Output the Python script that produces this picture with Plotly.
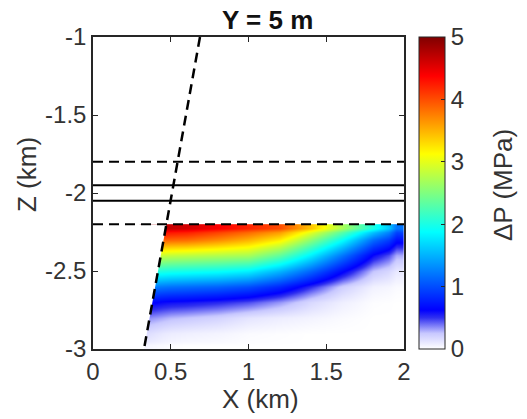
import plotly.graph_objects as go

# ---- data ----
x_edges = [0.3, 0.4, 0.5, 0.7, 0.9, 1.1, 1.3, 1.5, 1.7, 1.9, 2.0]
z_edges = [-2.2, -2.25, -2.35, -2.45, -2.55, -2.65, -2.75, -2.85, -2.95, -3.0]
# rows: z cells from top (-2.225) to bottom (-2.975); columns: x cells 0.35 .. 1.95
dP = [
    [4.8, 4.7, 4.6, 4.4, 4.2, 4.0, 3.4, 2.7, 2.0, 1.2],
    [3.95, 3.9, 3.85, 3.7, 3.5, 3.2, 2.55, 1.9, 1.15, 0.7],
    [2.9, 2.85, 2.8, 2.75, 2.7, 2.35, 1.8, 1.2, 0.6, 0.3],
    [2.05, 2.0, 1.95, 1.9, 1.8, 1.5, 1.1, 0.65, 0.25, 0.1],
    [1.25, 1.2, 1.15, 1.1, 1.0, 0.8, 0.5, 0.22, 0.06, 0.02],
    [0.65, 0.6, 0.57, 0.52, 0.45, 0.33, 0.17, 0.07, 0.01, 0.0],
    [0.35, 0.3, 0.25, 0.2, 0.12, 0.08, 0.05, 0.02, 0.0, 0.0],
    [0.15, 0.1, 0.07, 0.05, 0.02, 0.01, 0.0, 0.0, 0.0, 0.0],
    [0.04, 0.02, 0.0, 0.0, 0.0, 0.0, 0.0, 0.0, 0.0, 0.0],
]
fault_x = [0.688, 0.328]
fault_z = [-1.0, -3.0]
dashed_z = [-1.8, -2.2]
solid_z = [-1.95, -2.05]
x_ticks = [0, 0.5, 1, 1.5, 2]
z_ticks = [-3, -2.5, -2, -1.5, -1]
cb_ticks = [0, 1, 2, 3, 4, 5]

FONT = "Liberation Sans, Arial, Helvetica, sans-serif"
TXT = "#333333"
AX = "#262626"
TICK_SIZE = 24
TITLE_SIZE = 26

colorscale = [
    [0.0, "#ffffff"], [0.05, "#c8c8ff"], [0.10, "#3030f0"], [0.125, "#0000ff"],
    [0.375, "#00ffff"], [0.625, "#ffff00"], [0.875, "#ff0000"], [1.0, "#800000"],
]

fig = go.Figure()
fig.add_trace(go.Heatmap(
    x=x_edges, y=z_edges, z=dP, zmin=0, zmax=5, zsmooth="best",
    colorscale=colorscale,
    colorbar=dict(x=(419 - 93) / 311, xanchor="left", xpad=0, y=0.5, yanchor="middle",
                  ypad=0, len=1, lenmode="fraction", thickness=26,
                  outlinewidth=1, outlinecolor=AX, tickvals=cb_ticks,
                  ticks="inside", ticklen=4, tickcolor=AX,
                  tickfont=dict(family=FONT, size=TICK_SIZE, color=TXT)),
    hoverinfo="skip",
))

# mask left of fault (white)
def fx(z):
    return fault_x[0] + (z - fault_z[0]) * (fault_x[1] - fault_x[0]) / (fault_z[1] - fault_z[0])

zt, zb = z_edges[0], z_edges[-1]
fig.add_trace(go.Scatter(
    x=[0, fx(zt), fx(zb), 0, 0], y=[zt, zt, zb, zb, zt], mode="lines",
    fill="toself", fillcolor="white", line=dict(width=0), hoverinfo="skip",
    showlegend=False))

for zz in dashed_z:
    fig.add_trace(go.Scatter(x=[0, 2], y=[zz, zz], mode="lines",
                             line=dict(color="black", width=2, dash="10px,6px"),
                             showlegend=False, hoverinfo="skip"))
for zz in solid_z:
    fig.add_trace(go.Scatter(x=[0, 2], y=[zz, zz], mode="lines",
                             line=dict(color="black", width=2),
                             showlegend=False, hoverinfo="skip"))
fig.add_trace(go.Scatter(x=fault_x, y=fault_z, mode="lines",
                         line=dict(color="black", width=2.5, dash="10px,6px"),
                         showlegend=False, hoverinfo="skip"))

axis_common = dict(showline=True, linecolor=AX, linewidth=1.5, mirror="ticks",
                   ticks="inside", ticklen=5, tickcolor=AX, tickwidth=1.2,
                   showgrid=False, zeroline=False, automargin=False,
                   tickfont=dict(family=FONT, size=TICK_SIZE, color=TXT))
fig.update_xaxes(range=[0, 2], tickvals=x_ticks, ticktext=["0", "0.5", "1", "1.5", "2"],
                 **axis_common)
fig.update_yaxes(range=[-3, -1], tickvals=z_ticks, ticktext=["-3", "-2.5", "-2", "-1.5", "-1"],
                 **axis_common)

def px(xp):
    return (xp - 93) / 311

def py(yp):
    return (349 - yp) / 312

ann = dict(xref="paper", yref="paper", showarrow=False, xanchor="center", yanchor="middle")
fig.update_layout(
    width=527, height=419, margin=dict(l=93, r=123, t=37, b=70),
    paper_bgcolor="white", plot_bgcolor="white", showlegend=False,
    annotations=[
        dict(text="<b>Y = 5 m</b>", x=px(267), y=py(20),
             font=dict(family=FONT, size=TITLE_SIZE, color="#111111"), **ann),
        dict(text="X (km)", x=px(260), y=py(399),
             font=dict(family=FONT, size=TITLE_SIZE, color=TXT), **ann),
        dict(text="Z (km)", x=px(27), y=py(175), textangle=-90,
             font=dict(family=FONT, size=TITLE_SIZE, color=TXT), **ann),
        dict(text="ΔP (MPa)", x=px(503), y=py(185), textangle=-90,
             font=dict(family=FONT, size=TITLE_SIZE, color=TXT), **ann),
    ],
)

fig.write_html("out.html")
